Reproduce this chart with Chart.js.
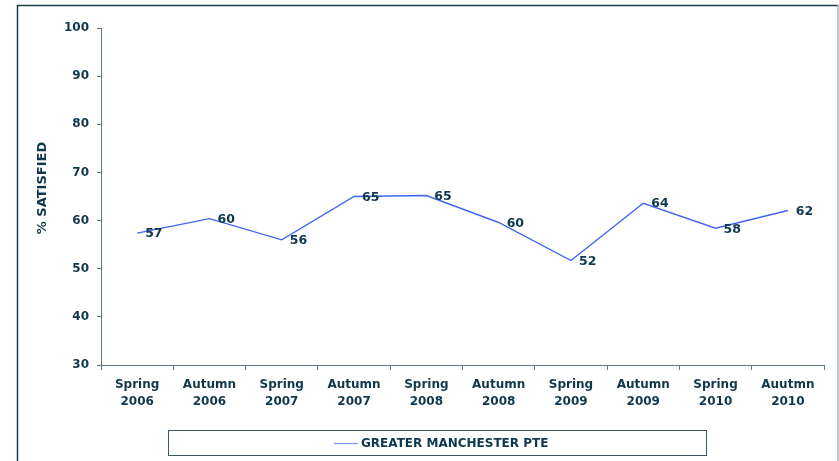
<!DOCTYPE html>
<html>
<head>
<meta charset="utf-8">
<script src="https://cdn.jsdelivr.net/npm/chart.js@4/dist/chart.umd.min.js"></script>
<style>
html,body{margin:0;padding:0;background:#fff;}
#wrap{width:839px;height:461px;position:relative;}
</style>
</head>
<body>
<div id="wrap"><canvas id="c" width="839" height="461"></canvas></div>
<script>
const categories = [
  ['Spring','2006'],['Autumn','2006'],['Spring','2007'],['Autumn','2007'],['Spring','2008'],
  ['Autumn','2008'],['Spring','2009'],['Autumn','2009'],['Spring','2010'],['Auutmn','2010']
];
const satisfied = [57.4, 60.4, 56.0, 65.0, 65.2, 59.6, 51.7, 63.6, 58.4, 62.1];
const seriesName = 'GREATER MANCHESTER PTE';
const yTitle = '% SATISFIED';

const TEXT = '#0f384e';
const AXIS = '#5f7785';
const FONT = "'DejaVu Sans', Verdana, sans-serif";

const decor = {
  id: 'decor',
  beforeDraw(chart) {
    const ctx = chart.ctx;
    ctx.save();
    ctx.fillStyle = '#fff';
    ctx.fillRect(0, 0, chart.width, chart.height);
    ctx.lineWidth = 1.5;
    ctx.strokeStyle = '#1e3c4c';
    ctx.beginPath();
    ctx.moveTo(17.5, 470); ctx.lineTo(17.5, 5.5); ctx.lineTo(838, 5.5);
    ctx.stroke();
    ctx.strokeStyle = '#a7b6bf';
    ctx.beginPath();
    ctx.moveTo(838, 5.5); ctx.lineTo(838, 470);
    ctx.stroke();
    ctx.restore();
  },
  afterDatasetsDraw(chart) {
    const ctx = chart.ctx;
    const meta = chart.getDatasetMeta(0);
    const data = chart.data.datasets[0].data;
    ctx.save();
    ctx.font = "bold 12.5px " + FONT;
    ctx.fillStyle = TEXT;
    ctx.textAlign = 'left';
    ctx.textBaseline = 'middle';
    meta.data.forEach((pt, i) => {
      ctx.fillText(String(Math.round(data[i])), pt.x + 8, pt.y + 1);
    });
    ctx.restore();
  },
  afterDraw(chart) {
    const ctx = chart.ctx;
    ctx.save();
    ctx.font = "bold 13px " + FONT;
    ctx.fillStyle = TEXT;
    ctx.textAlign = 'center';
    ctx.textBaseline = 'middle';
    ctx.translate(43, 188);
    ctx.rotate(-Math.PI / 2);
    ctx.fillText(yTitle, 0, 0);
    ctx.restore();

    ctx.save();
    const ds = chart.data.datasets[0];
    ctx.strokeStyle = '#3d5866';
    ctx.lineWidth = 1;
    ctx.strokeRect(168.5, 430.5, 538, 25);
    ctx.strokeStyle = '#7f9cf2';
    ctx.lineWidth = 1.3;
    ctx.beginPath();
    ctx.moveTo(334, 443.5); ctx.lineTo(358, 443.5);
    ctx.stroke();
    ctx.font = "bold 12px " + FONT;
    ctx.fillStyle = TEXT;
    ctx.textAlign = 'left';
    ctx.textBaseline = 'middle';
    ctx.fillText(ds.label, 361, 444);
    ctx.restore();
  }
};

new Chart(document.getElementById('c'), {
  type: 'line',
  data: {
    labels: categories,
    datasets: [{
      label: seriesName,
      data: satisfied,
      borderColor: '#3f66f2',
      borderWidth: 1.4,
      pointRadius: 0,
      pointHoverRadius: 0,
      tension: 0,
      fill: false
    }]
  },
  options: {
    responsive: false,
    animation: false,
    events: [],
    layout: { padding: { left: 0, right: 15, top: 28, bottom: 36 } },
    plugins: {
      legend: { display: false },
      tooltip: { enabled: false },
      title: { display: false }
    },
    scales: {
      x: {
        type: 'category',
        offset: true,
        grid: { display: true, drawOnChartArea: false, drawTicks: true, tickLength: 5, color: AXIS, offset: true },
        border: { display: true, color: AXIS, width: 1 },
        ticks: {
          color: TEXT, padding: 7, maxRotation: 0, autoSkip: false,
          font: { family: FONT, size: 12, weight: 'bold', lineHeight: 1.39 }
        },
        afterFit(scale) { scale.height = 60; }
      },
      y: {
        min: 30, max: 100,
        grid: { display: true, drawOnChartArea: false, drawTicks: true, tickLength: 4, color: AXIS },
        border: { display: true, color: AXIS, width: 1 },
        ticks: {
          stepSize: 10, color: TEXT, padding: 8,
          font: { family: FONT, size: 12, weight: 'bold' }
        },
        afterFit(scale) { scale.width = 101; }
      }
    }
  },
  plugins: [decor]
});
</script>
</body>
</html>
